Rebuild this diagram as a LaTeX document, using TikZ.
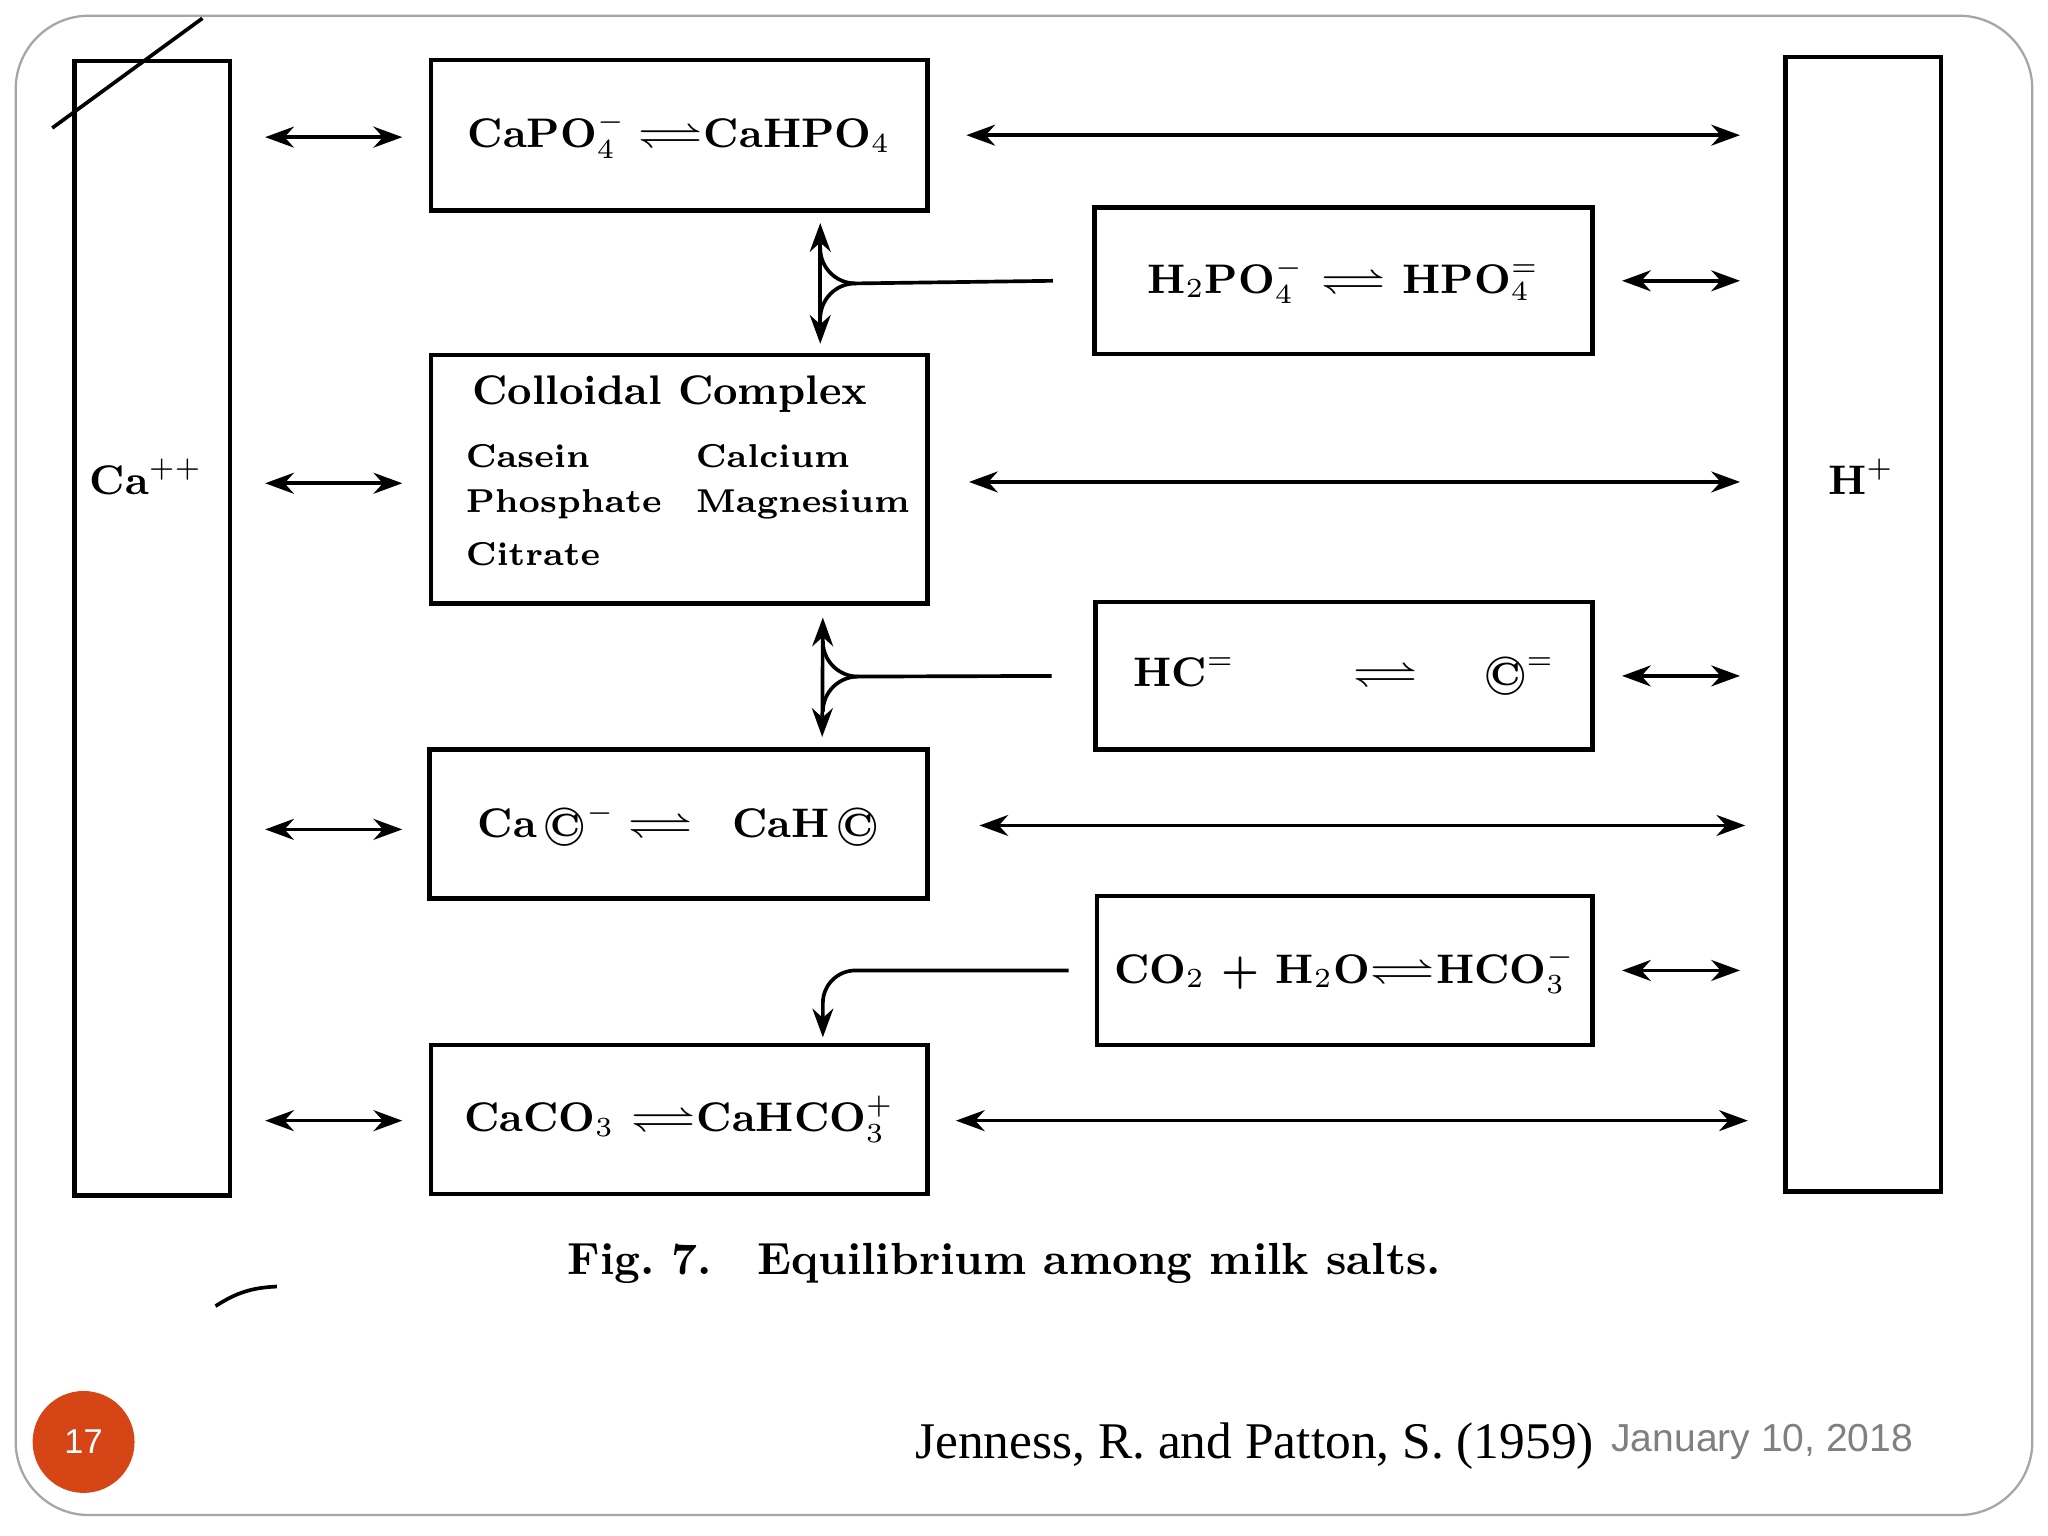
\documentclass[tikz,border=0pt]{standalone}
\usepackage{amsmath,amssymb,graphicx}
\usepackage{fontspec}
\newfontfamily\sansf{Liberation Sans}
\newfontfamily\serf{Liberation Serif}
\usetikzlibrary{arrows.meta,calc}
\definecolor{slidered}{HTML}{D64515}
\newcommand{\eqh}{\mathrel{\scalebox{1.6}[1.1]{$\rightleftharpoons$}}}
\newcommand{\cc}{\textcircled{\scriptsize C}}
\begin{document}
\begin{tikzpicture}[x={(0.01cm,0)},y={(0,-0.01cm)},
  bf/.style={font=\bfseries\fontsize{9}{11}\selectfont},
  box/.style={draw,line width=1pt,inner sep=0pt,bf},
  col/.style={draw,line width=1pt,minimum width=1.19cm,minimum height=8.68cm},
  arr/.style={line width=0.8pt,{Stealth[length=2.2mm,width=1.6mm]}-{Stealth[length=2.2mm,width=1.6mm]}},
  conn/.style={line width=0.8pt}]
\useasboundingbox (0,0) rectangle (1568,1176);
\draw[gray!70,line width=0.5pt,rounded corners=16pt] (12,12) rectangle (1556,1160);
\draw[line width=0.8pt] (40,98) -- (155,14);
\draw[line width=0.8pt] (165,1000) to[bend left=15] (212,985);
\node[col] (ca) at (116.5,481) {};
\node[bf] at (112,365) {Ca$^{++}$};
\node[col] (h) at (1426.5,478) {};
\node[bf] at (1425,365) {H$^{+}$};
\node[box,minimum width=3.80cm,minimum height=1.15cm] (a) at (520,103.5) {CaPO$_4^-\eqh$CaHPO$_4$};
\node[box,minimum width=3.81cm,minimum height=1.12cm] (b) at (1028.5,215) {H$_2$PO$_4^-$ $\eqh$ HPO$_4^=$};
\node[box,minimum width=3.80cm,minimum height=1.90cm] (c) at (520,367) {};
\node[bf] at (513,302) {Colloidal Complex};
\foreach \t/\xx/\yy in {Casein/356/349,Phosphate/356/386,Citrate/356/424,Calcium/532/349,Magnesium/532/386}
  \node[font=\bfseries\fontsize{7.2}{8}\selectfont,anchor=west,inner sep=0pt] at (\xx,\yy) {\t};
\node[box,minimum width=3.80cm,minimum height=1.13cm] (d) at (1029,517.5) {HC$^=$\hspace{0.9cm}$\eqh$\hspace{0.5cm}\cc$^=$};
\node[box,minimum width=3.81cm,minimum height=1.14cm] (e) at (519.5,631) {Ca\,\cc$^-\eqh$\hspace{0.3cm}CaH\,\cc};
\node[box,minimum width=3.79cm,minimum height=1.14cm] (f) at (1029.5,743) {CO$_2$ + H$_2$O$\eqh$HCO$_3^-$};
\node[box,minimum width=3.80cm,minimum height=1.14cm] (g) at (520,857) {CaCO$_3$ $\eqh$CaHCO$_3^+$};
\foreach \yy in {105,370,635,858}
  \draw[arr] (203,\yy) -- (308,\yy);
\draw[arr] ($(a.east)+(28,0)$) -- ($(h.west|-a.east)+(-33,0)$);
\draw[arr] ($(c.east|-0,369)+(30,0)$) -- ($(h.west|-0,369)+(-33,0)$);
\draw[arr] ($(e.east|-0,632)+(38,0)$) -- ($(h.west|-0,632)+(-29,0)$);
\draw[arr] ($(g.east|-0,858)+(20,0)$) -- ($(h.west|-0,858)+(-27,0)$);
\foreach \n in {b,d,f}
  \draw[arr] ($(\n.east)+(21,0)$) -- ($(h.west|-\n.east)+(-33,0)$);
\draw[arr] ($(a.south)+(108,8)$) -- ($(c.north)+(108,-7)$);
\draw[conn] ($(b.west)+(-30,0)$) -- (655,217) to[out=180,in=-90] (628,190);
\draw[conn] (655,217) to[out=180,in=90] (628,244);
\draw[arr] ($(c.south)+(110,9)$) -- ($(e.north)+(110,-8)$);
\draw[conn] ($(d.west)+(-32,0)$) -- (657,518) to[out=180,in=-90] (630,491);
\draw[conn] (657,518) to[out=180,in=90] (630,545);
\draw[conn,-{Stealth[length=2.2mm,width=1.6mm]}] ($(f.west)+(-20,0)$) -- (655,743) to[out=180,in=90] (630,768) -- ($(g.north)+(110,-4)$);
\node[font=\bfseries\fontsize{9.8}{12}\selectfont,anchor=west] at (422,967) {Fig.\ 7.\quad Equilibrium among milk salts.};
\fill[slidered] (64,1104) circle (0.39cm);
\node[white,font=\sansf\fontsize{7.5}{9}\selectfont] at (64,1104) {17};
\node[font=\serf\fontsize{11.2}{13}\selectfont,anchor=west,inner sep=0pt] at (700,1107) {Jenness, R. and Patton, S. (1959)};
\node[gray,font=\sansf\fontsize{8.5}{10}\selectfont,anchor=west,inner sep=0pt] at (1233,1104) {January 10, 2018};
\end{tikzpicture}
\end{document}
